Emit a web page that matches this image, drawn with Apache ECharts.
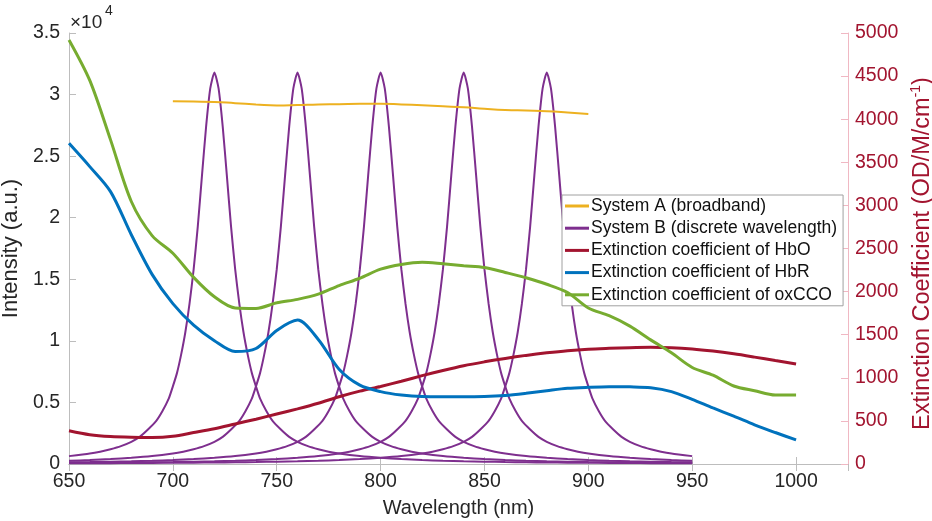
<!DOCTYPE html>
<html>
<head>
<meta charset="utf-8">
<script src="https://cdn.jsdelivr.net/npm/echarts@6/dist/echarts.min.js"></script>
<style>
html, body { margin: 0; padding: 0; background: #fff; }
#chart { width: 932px; height: 521px; }
</style>
</head>
<body>
<div id="chart"></div>
<script>
// wavelength grid of the extinction curves (nm)
const extWavelengths = [650, 660, 670, 680, 690, 700, 710, 720, 730, 740, 750, 760, 770, 780, 790, 800, 810, 820,
    830, 840, 850, 860, 870, 880, 890, 900, 910, 920, 930, 940, 950, 960, 970, 980, 990, 1000];
// extinction coefficients (OD/M/cm-1), right axis
const hboExt = [386, 340, 318, 310, 308, 322, 365, 410, 465, 520, 580, 640, 705, 780, 845, 900, 960, 1025,
    1085, 1140, 1185, 1225, 1260, 1290, 1315, 1332, 1342, 1350, 1354, 1350, 1335, 1310, 1278, 1240, 1200, 1160];
const hbrExt = [3720, 3450, 3160, 2660, 2200, 1860, 1610, 1430, 1305, 1340, 1550, 1670, 1445, 1100, 915, 840, 800, 782,
    780, 781, 783, 795, 820, 850, 878, 890, 897, 895, 885, 840, 750, 650, 555, 455, 365, 280];
const oxccoExt = [4920, 4450, 3760, 3045, 2650, 2445, 2165, 1940, 1810, 1805, 1870, 1910, 1970, 2070, 2155, 2260, 2315, 2340,
    2322, 2300, 2280, 2222, 2160, 2085, 1990, 1810, 1720, 1600, 1440, 1290, 1120, 1030, 905, 850, 800, 800];

// System A broadband intensity (x10^4)
const sysAWavelengths = [700, 710, 720, 730, 740, 750, 760, 770, 780, 790, 800, 810, 820, 830, 840, 850, 860, 870, 880, 890, 900];
const sysAIntensity = [2.945, 2.943, 2.94, 2.93, 2.92, 2.912, 2.915, 2.92, 2.922, 2.925, 2.925, 2.92, 2.913, 2.905,
    2.897, 2.885, 2.875, 2.87, 2.865, 2.855, 2.843];

// System B: one peak shape, placed at each centre wavelength
const sysBCentres = [720, 760, 800, 840, 880];
const sysBRange = [650, 950];
const peakOffsets = [0, 2, 4, 6, 8, 10, 12, 14, 16, 18, 20, 22, 25, 28, 32, 36, 40, 45, 50, 55, 60, 70, 80, 90,
    100, 110, 120, 130, 140, 150, 160, 170, 180, 190, 200, 210, 220, 230];
const peakIntensity = [3.18, 3.05, 2.74, 2.34, 1.93, 1.58, 1.3, 1.07, 0.89, 0.74, 0.63, 0.53, 0.43, 0.35, 0.28, 0.22,
    0.18, 0.145, 0.12, 0.1, 0.085, 0.064, 0.05, 0.04, 0.032, 0.026, 0.022, 0.019, 0.016, 0.014, 0.012, 0.011,
    0.01, 0.009, 0.008, 0.007, 0.0065, 0.006];

const black = '#262626';
const axisGrey = '#bdbdbd';
const extRed = '#A2142F';
const font = 'Liberation Sans, Arial, Helvetica, sans-serif';

function pairs(xs, ys) {
    return xs.map((x, i) => [x, ys[i]]);
}

function peakData(centre) {
    let pts = [];
    for (let i = peakOffsets.length - 1; i > 0; i--) {
        pts.push([centre - peakOffsets[i], peakIntensity[i]]);
    }
    for (let i = 0; i < peakOffsets.length; i++) {
        pts.push([centre + peakOffsets[i], peakIntensity[i]]);
    }
    return pts.filter((p) => p[0] >= sysBRange[0] && p[0] <= sysBRange[1]);
}

let series = [];
sysBCentres.forEach((c) => {
    series.push({
        name: 'System B (discrete wavelength)',
        type: 'line',
        data: peakData(c),
        showSymbol: false,
        smooth: 0.2,
        lineStyle: { color: '#7E2F8E', width: 2 },
        itemStyle: { color: '#7E2F8E' },
        z: 2
    });
});
series.unshift({
    name: 'System A (broadband)',
    type: 'line',
    data: pairs(sysAWavelengths, sysAIntensity),
    showSymbol: false,
    smooth: true,
    lineStyle: { color: '#EDB120', width: 2 },
    itemStyle: { color: '#EDB120' },
    z: 3
});
[
    ['Extinction coefficient of HbO', hboExt, '#A2142F'],
    ['Extinction coefficient of HbR', hbrExt, '#0072BD'],
    ['Extinction coefficient of oxCCO', oxccoExt, '#77AC30']
].forEach((s) => {
    series.push({
        name: s[0],
        type: 'line',
        yAxisIndex: 1,
        data: pairs(extWavelengths, s[1]),
        showSymbol: false,
        smooth: 0.3,
        lineStyle: { color: s[2], width: 3 },
        itemStyle: { color: s[2] },
        z: 4
    });
});

const chart = echarts.init(document.getElementById('chart'));
const option = {
    animation: false,
    textStyle: { fontFamily: font },
    grid: { left: 69, right: 84, top: 33, bottom: 57, containLabel: false, outerBoundsMode: 'none' },
    legend: {
        orient: 'vertical',
        left: 562,
        top: 195,
        padding: [2, 6, 2, 3],
        itemGap: 4.2,
        itemWidth: 24,
        itemHeight: 3,
        icon: 'rect',
        backgroundColor: '#fff',
        borderColor: '#a0a0a0',
        borderWidth: 1,
        borderRadius: 0,
        textStyle: { fontSize: 17.5, color: '#111', fontFamily: font, padding: [0, 0, 0, -3] },
        data: ['System A (broadband)', 'System B (discrete wavelength)', 'Extinction coefficient of HbO',
            'Extinction coefficient of HbR', 'Extinction coefficient of oxCCO']
    },
    graphic: [{
        type: 'text',
        left: 70,
        top: 13,
        style: { text: '×10', fontSize: 19, fill: black, fontFamily: font }
    }, {
        type: 'text',
        left: 105,
        top: 4,
        style: { text: '4', fontSize: 14, fill: black, fontFamily: font }
    }],
    xAxis: [{
        type: 'value',
        min: 650,
        max: 1025,
        interval: 50,
        name: 'Wavelength (nm)',
        nameLocation: 'middle',
        nameGap: 34,
        nameTextStyle: { fontSize: 20, color: black },
        axisLine: { lineStyle: { color: axisGrey } },
        axisTick: { inside: true, length: 7, lineStyle: { color: axisGrey } },
        axisLabel: { fontSize: 19.5, color: black, margin: 8, showMaxLabel: false, formatter: (v) => String(v) },
        splitLine: { show: false }
    }, {
        type: 'value',
        position: 'top',
        min: 650,
        max: 1025,
        interval: 50,
        axisLine: { lineStyle: { color: axisGrey } },
        axisTick: { inside: true, length: 7, lineStyle: { color: axisGrey } },
        axisLabel: { show: false },
        splitLine: { show: false }
    }],
    yAxis: [{
        type: 'value',
        min: 0,
        max: 3.5,
        interval: 0.5,
        name: 'Intensity (a.u.)',
        nameLocation: 'middle',
        nameRotate: 90,
        nameGap: 38,
        nameTextStyle: { fontSize: 22, color: black },
        axisLine: { show: true, lineStyle: { color: axisGrey } },
        axisTick: { show: true, inside: true, length: 7, lineStyle: { color: axisGrey } },
        axisLabel: { fontSize: 19.5, color: black, margin: 9 },
        splitLine: { show: false }
    }, {
        type: 'value',
        position: 'right',
        min: 0,
        max: 5000,
        interval: 500,
        name: '{a|Extinction Coefficient (OD/M/cm}{s|-1}{a|)}',
        nameLocation: 'middle',
        nameRotate: 90,
        nameGap: 54,
        nameTextStyle: {
            padding: [0, 10, 0, 0],
            rich: {
                a: { fontSize: 23.5, color: extRed, fontFamily: font },
                s: { fontSize: 14, color: extRed, fontFamily: font, padding: [0, 0, 12, 0] }
            }
        },
        axisLine: { show: true, lineStyle: { color: '#f0b8c3' } },
        axisTick: { show: true, inside: true, length: 7, lineStyle: { color: '#f0b8c3' } },
        axisLabel: { fontSize: 19.5, color: extRed, margin: 7, formatter: (v) => String(v) },
        splitLine: { show: false }
    }],
    series: series
};
chart.setOption(option);
</script>
</body>
</html>
